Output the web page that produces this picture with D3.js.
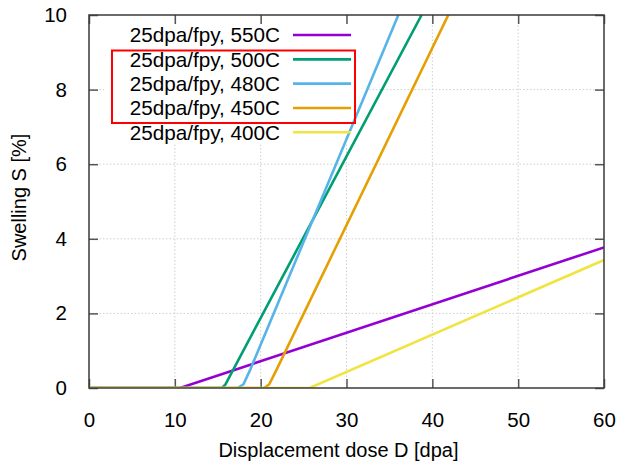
<!DOCTYPE html>
<html>
<head>
<meta charset="utf-8">
<script src="https://cdn.jsdelivr.net/npm/d3@7"></script>
<style>
  html, body { margin: 0; padding: 0; background: #fff; }
  text { font-family: "Liberation Sans", Arial, sans-serif; fill: #000; }
</style>
</head>
<body>
<svg id="chart" width="618" height="462"></svg>
<script>
// ---- data ----
const seriesNames = ["25dpa/fpy, 550C", "25dpa/fpy, 500C", "25dpa/fpy, 480C", "25dpa/fpy, 450C", "25dpa/fpy, 400C"];
const seriesColors = ["#9400d3", "#009e73", "#56b4e9", "#e69f00", "#f0e442"];
const s550 = [[0, 0], [10.6, 0], [60, 3.77]];
const s500 = [[0, 0], [15.5, 0], [15.9, 0.1], [38.75, 10]];
const s480 = [[0, 0], [17.3, 0], [18.0, 0.1], [18.8, 0.5], [36.04, 10]];
const s450 = [[0, 0], [20.4, 0], [21.0, 0.1], [21.7, 0.42], [41.86, 10]];
const s400 = [[0, 0], [25.7, 0], [60, 3.43]];
const seriesData = [s550, s500, s480, s450, s400];
const xTicks = [0, 10, 20, 30, 40, 50, 60];
const yTicks = [0, 2, 4, 6, 8, 10];
const xLabel = "Displacement dose D [dpa]";
const yLabel = "Swelling S [%]";

(function () {
// ---- layout ----
const svg = d3.select("#chart");
const pL = 89, pR = 604, pT = 15, pB = 388;
const x = d3.scaleLinear().domain([0, 60]).range([pL, pR]);
const y = d3.scaleLinear().domain([0, 10]).range([pB, pT]);
const fontSize = 20;
const tickFont = 20.5;
const legendFont = 20.7;
const axisColor = "#3a3a3a";

svg.append("defs").append("clipPath").attr("id", "clip")
  .append("rect").attr("x", pL).attr("y", pT).attr("width", pR - pL).attr("height", pB - pT);

// grid
const grid = svg.append("g").attr("stroke", "#cfcfcf").attr("stroke-width", 1).attr("stroke-dasharray", "1.5,2");
grid.selectAll("line.gx").data(xTicks.filter(d => d > 0 && d < 60)).join("line").attr("class", "gx")
  .attr("x1", d => x(d)).attr("x2", d => x(d)).attr("y1", pT).attr("y2", pB);
grid.selectAll("line.gy").data(yTicks.filter(d => d > 0 && d < 10)).join("line").attr("class", "gy")
  .attr("y1", d => y(d)).attr("y2", d => y(d)).attr("x1", pL).attr("x2", pR);

// ticks (inward on all sides) using d3 axes
const tickLen = 9;
const bAxis = svg.append("g").attr("transform", `translate(0,${pB})`)
  .call(d3.axisBottom(x).tickValues(xTicks).tickSize(-tickLen).tickPadding(tickLen + 12));
const tAxis = svg.append("g").attr("transform", `translate(0,${pT})`)
  .call(d3.axisTop(x).tickValues(xTicks).tickSize(-tickLen).tickFormat(""));
const lAxis = svg.append("g").attr("transform", `translate(${pL},0)`)
  .call(d3.axisLeft(y).tickValues(yTicks).tickSize(-tickLen).tickPadding(tickLen + 13));
const rAxis = svg.append("g").attr("transform", `translate(${pR},0)`)
  .call(d3.axisRight(y).tickValues(yTicks).tickSize(-tickLen).tickFormat(""));
[bAxis, tAxis, lAxis, rAxis].forEach(a => {
  a.select(".domain").remove();
  a.selectAll(".tick line").attr("stroke", "#555").attr("stroke-width", 1.5);
  a.selectAll(".tick text").attr("font-size", tickFont).attr("fill", "#000")
    .style("font-family", '"Liberation Sans", Arial, sans-serif');
});
bAxis.selectAll(".tick text").attr("dy", "0.9em");

// legend background (opaque)
svg.append("rect").attr("x", 104).attr("y", 24).attr("width", 262).attr("height", 119).attr("fill", "#fff");

// lines
const line = d3.line().x(d => x(d[0])).y(d => y(d[1]));
svg.append("g").attr("clip-path", "url(#clip)")
  .selectAll("path").data(seriesData).join("path")
  .attr("d", line).attr("fill", "none")
  .attr("stroke", (d, i) => seriesColors[i]).attr("stroke-width", 2.6)
  .attr("stroke-linejoin", "round");

// border
svg.append("rect").attr("x", pL).attr("y", pT).attr("width", pR - pL).attr("height", pB - pT)
  .attr("fill", "none").attr("stroke", axisColor).attr("stroke-width", 1.5);

// legend
const legendY = d3.scaleLinear().domain([0, 4]).range([35, 132.3]);
const leg = svg.append("g");
seriesNames.forEach((name, i) => {
  leg.append("text").attr("x", 280).attr("y", legendY(i)).attr("dy", "0.36em")
    .attr("text-anchor", "end").attr("font-size", legendFont).text(name);
  leg.append("line").attr("x1", 293).attr("x2", 351).attr("y1", legendY(i)).attr("y2", legendY(i))
    .attr("stroke", seriesColors[i]).attr("stroke-width", 2.6);
});

// red highlight box
svg.append("rect").attr("x", 112).attr("y", 50.5).attr("width", 243).attr("height", 72.5)
  .attr("fill", "none").attr("stroke", "#ff0000").attr("stroke-width", 2);

// axis labels
svg.append("text").attr("x", (pL + pR) / 2 - 8).attr("y", 449.5).attr("dy", "0.36em")
  .attr("text-anchor", "middle").attr("font-size", fontSize).text(xLabel);
svg.append("text").attr("transform", `translate(19,${(pT + pB) / 2 - 4}) rotate(-90)`)
  .attr("dy", "0.36em").attr("text-anchor", "middle").attr("font-size", fontSize).text(yLabel);
})();
</script>
</body>
</html>
